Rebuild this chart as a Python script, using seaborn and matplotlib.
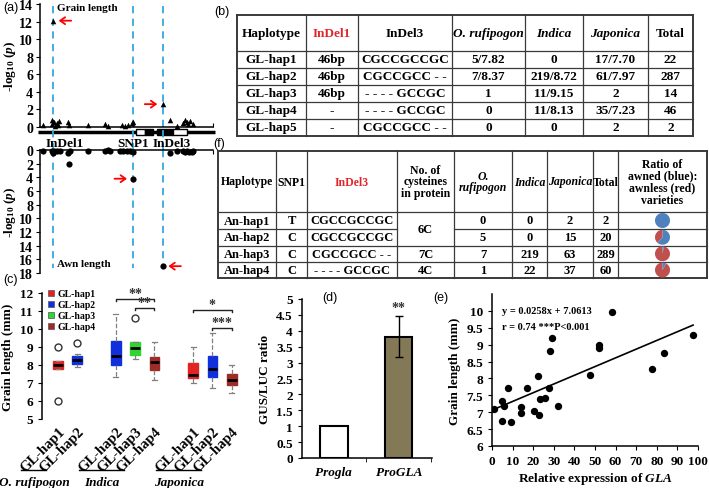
import matplotlib
matplotlib.use("Agg")
import matplotlib.pyplot as plt
import matplotlib.transforms as mtransforms
from matplotlib.lines import Line2D
from matplotlib.patches import Rectangle
from matplotlib.ticker import FuncFormatter
import numpy as np
import seaborn as sns

# ---------------- data ----------------
# (a) association scan along the locus (x = relative position in the region)
site_pos = [7.6, 53.5, 71.0]
site_names = ["InDel1", "SNP1", "InDel3"]
grain_pos = [1.9, 6.7, 7.2, 8.1, 8.6, 9.6, 10.2, 11.2, 16.4, 16.9, 27.9, 37.6, 39.5, 47.2,
             49.1, 51.0, 53.0, 53.9, 75.1, 79.0, 82.8, 83.8, 84.8, 85.8, 86.7, 88.6, 7.6, 71.0]
grain_logp = [0.2, 0.75, 0.3, 0.6, 0.1, 0.5, 0.2, 0.7, 0.6, 0.2, 0.25, 0.3, 0.1, 0.2,
              0.15, 0.25, 0.4, 0.6, 0.8, 0.15, 0.5, 0.8, 0.6, 0.35, 0.7, 0.3, 12.1, 2.6]
awn_pos = [1.9, 6.7, 7.4, 8.1, 9.6, 11.6, 16.4, 17.3, 16.6, 27.9, 37.6, 39.5, 40.5, 46.2,
           48.2, 50.1, 52.0, 53.6, 75.1, 79.0, 82.7, 84.0, 85.2, 86.4, 87.6, 88.4, 53.5, 71.0]
awn_logp = [0.1, 0.1, 0.4, 0.2, 0.1, 0.2, 0.4, 0.1, 2.0, 0.1, 0.1, 0.05, 0.2, 0.1,
            0.1, 0.15, 0.1, 0.3, 0.5, 0.2, 0.1, 0.3, 0.2, 0.35, 0.3, 0.1, 4.2, 17.0]
exon_start = [55.5, 60.7, 67.6, 76.9]
exon_end = [60.7, 65.3, 76.9, 85.0]
exon_kind = ["UTR", "CDS", "CDS", "UTR"]

# (b) grain-length haplotypes
b_header = ["Haplotype", "InDel1", "InDel3", "O. rufipogon", "Indica", "Japonica", "Total"]
b_hap = ["GL-hap1", "GL-hap2", "GL-hap3", "GL-hap4", "GL-hap5"]
b_indel1 = ["46bp", "46bp", "46bp", "-", "-"]
b_indel3 = ["CGCCGCCGC", "CGCCGCC - -", "- - - - GCCGC", "- - - - GCCGC", "CGCCGCC - -"]
b_rufipogon = ["5/7.82", "7/8.37", "1", "0", "0"]
b_indica = ["0", "219/8.72", "11/9.15", "11/8.13", "0"]
b_japonica = ["17/7.70", "61/7.97", "2", "35/7.23", "2"]
b_total = ["22", "287", "14", "46", "2"]

# (f) awn haplotypes
f_header = ["Haplotype", "SNP1", "InDel3", "No. of\ncysteines\nin protein", "O.\nrufipogon",
            "Indica", "Japonica", "Total", "Ratio of\nawned (blue):\nawnless (red)\nvarieties"]
f_hap = ["An-hap1", "An-hap2", "An-hap3", "An-hap4"]
f_snp1 = ["T", "C", "C", "C"]
f_indel3 = ["CGCCGCCGC", "CGCCGCCGC", "CGCCGCC - -", "- - - - GCCGC"]
f_cysteines = ["6C", "6C", "7C", "4C"]
f_rufipogon = ["0", "5", "7", "1"]
f_indica = ["0", "0", "219", "22"]
f_japonica = ["2", "15", "63", "37"]
f_total = ["2", "20", "289", "60"]
f_awned_share = [1.0, 0.62, 0.03, 0.08]

# (c) grain length per haplotype
c_groups = ["O. rufipogon", "O. rufipogon", "Indica", "Indica", "Indica",
            "Japonica", "Japonica", "Japonica"]
c_haps = ["GL-hap1", "GL-hap2", "GL-hap2", "GL-hap3", "GL-hap4", "GL-hap1", "GL-hap2", "GL-hap4"]
c_whislo = [7.8, 7.9, 7.35, 8.33, 7.17, 7.0, 6.72, 6.43]
c_q1 = [7.8, 8.05, 8.0, 8.56, 7.74, 7.28, 7.35, 6.9]
c_med = [8.0, 8.28, 8.52, 8.93, 8.18, 7.44, 7.78, 7.18]
c_q3 = [8.22, 8.52, 9.35, 9.26, 8.43, 8.09, 8.52, 7.5]
c_whishi = [8.22, 8.6, 10.83, 9.3, 9.27, 9.02, 9.78, 8.02]
c_fliers = [[9.0, 6.0], [9.2], [], [10.6], [], [], [], []]
c_tests = [(2, 4, "**"), (3, 4, "**"), (5, 7, "*"), (6, 7, "***")]
c_test_level = [11.68, 11.15, 11.05, 10.05]

# (d) promoter activity
d_constructs = ["Progla", "ProGLA"]
d_ratio = [1.0, 3.82]
d_err = [0.0, 0.63]

# (e) expression vs grain length
e_expr = [1.0, 5.0, 5.0, 5.8, 7.8, 9.0, 14.0, 14.2, 17.2, 20.4, 22.3, 22.6, 23.1,
          25.6, 27.7, 28.0, 29.1, 32.2, 47.4, 51.8, 52.1, 58.4, 77.8, 83.3, 97.6]
e_len = [7.09, 7.33, 6.74, 7.17, 7.71, 6.71, 6.99, 7.14, 7.71, 7.04, 8.06, 6.91, 7.38,
         7.43, 7.73, 8.81, 9.19, 7.17, 8.10, 8.99, 8.91, 9.98, 8.29, 8.74, 9.29]
e_slope = 0.0258
e_intercept = 7.0613
e_r = 0.74

# ---------------- style ----------------
plt.rcParams["font.family"] = ["Liberation Serif", "DejaVu Serif"]
plt.rcParams["font.weight"] = "bold"
plt.rcParams["axes.labelweight"] = "bold"
plt.rcParams["mathtext.fontset"] = "custom"
plt.rcParams["mathtext.rm"] = "Liberation Serif:bold"
plt.rcParams["mathtext.it"] = "Liberation Serif:bold:italic"
plt.rcParams["mathtext.bf"] = "Liberation Serif:bold"
plt.rcParams["axes.linewidth"] = 1.1

W, H = 709, 489
fig = plt.figure(figsize=(W / 100, H / 100), dpi=100)


def rect(l, t, r, b):
    return [l / W, 1 - b / H, (r - l) / W, (b - t) / H]


CYAN = "#35a8dd"
RED = "#e0262a"
hap_colors = {"GL-hap1": "#e32322", "GL-hap2": "#1030dc", "GL-hap3": "#2fd62f", "GL-hap4": "#9e2b25"}


def red_arrow(ax, x, y, side):
    ax.annotate("", xy=(x, y), xytext=(side * 13, 0), textcoords="offset points",
                arrowprops=dict(arrowstyle="->,head_length=0.35,head_width=0.25",
                                color="red", lw=1.3, shrinkA=0, shrinkB=4))


# ---------------- (a) ----------------
ax_top = fig.add_axes(rect(40, 5, 213, 128))
sns.scatterplot(x=grain_pos, y=grain_logp, marker="^", color="black", s=16, linewidth=0,
                ax=ax_top, clip_on=False, zorder=3)
ax_top.set_xlim(0, 100)
ax_top.set_ylim(0, 14)
ax_top.set_yticks(range(0, 15, 2))
ax_top.set_xticks([54, 100])
ax_top.set_xticklabels([])
ax_top.tick_params(axis="x", direction="in", length=3)
ax_top.tick_params(axis="y", labelsize=10, length=3, pad=2)
ax_top.spines[["top", "right"]].set_visible(False)
for p in site_pos:
    ax_top.axvline(p, color=CYAN, ls=(0, (4, 3)), lw=1.3, zorder=1)
ax_top.text(9.8, 13.6, "Grain length", fontsize=8, ha="left", va="center")
ax_top.set_ylabel(r"-log$_{10}$ ($p$)", fontsize=9.5)
ax_top.yaxis.set_label_coords(-0.13, 0.5)
top_idx = np.argsort(grain_logp)[::-1][:2]
for i, side in zip(top_idx, [1, -1]):
    red_arrow(ax_top, grain_pos[i], grain_logp[i], side)

ax_gene = fig.add_axes(rect(40, 128, 213, 151))
ax_gene.set_xlim(0, 100)
ax_gene.set_ylim(0, 1)
ax_gene.axis("off")
ax_gene.plot([-1, 101], [0.78, 0.78], color="black", lw=2.5, clip_on=False, solid_capstyle="butt")
for s, e, k in zip(exon_start, exon_end, exon_kind):
    ax_gene.add_patch(Rectangle((s, 0.66), e - s, 0.24, fc="white" if k == "UTR" else "black",
                                ec="black", lw=1, zorder=3))
for p in site_pos:
    ax_gene.axvline(p, color=CYAN, ls=(0, (4, 3)), lw=1.3, zorder=4)
for name, x in zip(site_names, [14.5, 53.8, 76.3]):
    ax_gene.text(x, 0.3, name, fontsize=9.5, ha="center", va="center", zorder=5)

ax_bot = fig.add_axes(rect(40, 151, 213, 274))
sns.scatterplot(x=awn_pos, y=awn_logp, marker="o", color="black", s=20, linewidth=0,
                ax=ax_bot, clip_on=False, zorder=3)
ax_bot.set_xlim(0, 100)
ax_bot.set_ylim(18, 0)
ax_bot.set_yticks(range(0, 19, 2))
ax_bot.xaxis.tick_top()
ax_bot.set_xticks([54, 100])
ax_bot.set_xticklabels([])
ax_bot.tick_params(axis="x", direction="in", length=3)
ax_bot.tick_params(axis="y", labelsize=10, length=3, pad=2)
ax_bot.spines[["bottom", "right"]].set_visible(False)
ax_bot.vlines(site_pos, 0, 17.3, color=CYAN, ls=(0, (4, 3)), lw=1.3, zorder=1)
ax_bot.text(9.8, 16.6, "Awn length", fontsize=8, ha="left", va="center")
ax_bot.set_ylabel(r"-log$_{10}$ ($p$)", fontsize=9.5)
ax_bot.yaxis.set_label_coords(-0.13, 0.5)
bot_idx = np.argsort(awn_logp)[::-1][:2]
for i, side in zip(bot_idx, [1, -1]):
    red_arrow(ax_bot, awn_pos[i], awn_logp[i], side)

# ---------------- tables (b) and (f) ----------------
ov = fig.add_axes([0, 0, 1, 1])
ov.set_xlim(0, W)
ov.set_ylim(H, 0)
ov.axis("off")
ov.set_zorder(-1)


def draw_grid(xs, ys, skip=()):
    for j, y in enumerate(ys):
        for i in range(len(xs) - 1):
            if (j, i) in skip:
                continue
            lw = 1.4 if j in (0, len(ys) - 1) else 0.9
            ov.plot([xs[i], xs[i + 1]], [y, y], color="#3a3a3a", lw=lw, solid_capstyle="projecting")
    for i, x in enumerate(xs):
        lw = 1.4 if i in (0, len(xs) - 1) else 0.9
        ov.plot([x, x], [ys[0], ys[-1]], color="#3a3a3a", lw=lw)


def cell_text(xs, ys, col, row, txt, size, italic=False, color="black", row_span=1):
    ov.text((xs[col] + xs[col + 1]) / 2, (ys[row] + ys[row + row_span]) / 2, txt,
            ha="center", va="center", fontsize=size, color=color,
            fontstyle="italic" if italic else "normal", linespacing=1.0)


bx = [237, 306, 358, 452, 525, 583, 648, 693]
by = [16, 52, 68.5, 85.5, 102.5, 119.5, 137]
draw_grid(bx, by)
for c, h in enumerate(b_header):
    cell_text(bx, by, c, 0, h, 9.5, italic=c in (3, 4, 5), color=RED if c == 1 else "black")
b_cols = [b_hap, b_indel1, b_indel3, b_rufipogon, b_indica, b_japonica, b_total]
for c, col in enumerate(b_cols):
    for r, v in enumerate(col):
        cell_text(bx, by, c, r + 1, v, 9.5)

fx = [218, 276, 307, 397, 454, 512, 547, 593, 618, 707]
fy = [152, 213, 230, 246.5, 263, 279]
merge_skip = set()
for r in range(1, len(f_cysteines)):
    if f_cysteines[r] == f_cysteines[r - 1]:
        merge_skip.add((r + 1, 3))
draw_grid(fx, fy, skip=merge_skip)
for c, h in enumerate(f_header):
    cell_text(fx, fy, c, 0, h, 8.5, italic=c in (4, 5, 6), color=RED if c == 2 else "black")
f_cols = [f_hap, f_snp1, f_indel3, None, f_rufipogon, f_indica, f_japonica, f_total]
for c, col in enumerate(f_cols):
    if col is None:
        continue
    for r, v in enumerate(col):
        cell_text(fx, fy, c, r + 1, v, 9)
r = 0
while r < len(f_cysteines):
    span = 1
    while r + span < len(f_cysteines) and f_cysteines[r + span] == f_cysteines[r]:
        span += 1
    cell_text(fx, fy, 3, r + 1, f_cysteines[r], 9, row_span=span)
    r += span
for r, share in enumerate(f_awned_share):
    cx = (fx[-2] + fx[-1]) / 2
    cy = (fy[r + 1] + fy[r + 2]) / 2
    pax = fig.add_axes(rect(cx - 7.5, cy - 7.5, cx + 7.5, cy + 7.5))
    pax.pie([1 - share, share], colors=["#c0504d", "#4f81bd"], startangle=90,
            counterclock=True, wedgeprops=dict(linewidth=0))
    pax.set_xlim(-1, 1)
    pax.set_ylim(-1, 1)
    pax.set_aspect("equal")

# ---------------- (c) ----------------
ax_c = fig.add_axes(rect(42, 294, 245, 420))
positions = []
pos, prev = 0, None
for g in c_groups:
    pos += 1 if (prev is None or g == prev) else 2
    positions.append(pos)
    prev = g
stats = [dict(whislo=a, q1=b, med=m, q3=q, whishi=w, fliers=f, label=h)
         for a, b, m, q, w, f, h in zip(c_whislo, c_q1, c_med, c_q3, c_whishi, c_fliers, c_haps)]
bp = ax_c.bxp(stats, positions=positions, widths=0.5, patch_artist=True,
              whiskerprops=dict(color="gray", ls="--", lw=0.9),
              capprops=dict(color="gray", lw=0.9),
              medianprops=dict(color="black", lw=2),
              flierprops=dict(marker="o", mfc="white", mec="#333333", ms=5, mew=1))
for patch, h in zip(bp["boxes"], c_haps):
    patch.set_facecolor(hap_colors[h])
    patch.set_edgecolor(hap_colors[h])
ax_c.set_xlim(0.17, 10.69)
ax_c.set_ylim(5, 12)
ax_c.set_yticks(range(5, 13))
ax_c.set_xticks(positions)
ax_c.set_xticklabels(c_haps, rotation=45, ha="right", rotation_mode="anchor", fontsize=10.5)
shift = mtransforms.ScaledTranslation(0.09, 0, fig.dpi_scale_trans)
for lab in ax_c.get_xticklabels():
    lab.set_transform(lab.get_transform() + shift)
ax_c.tick_params(axis="x", length=0, pad=4)
ax_c.tick_params(axis="y", labelsize=9.5, length=3)
ax_c.spines[["top", "right", "bottom"]].set_visible(False)
ax_c.set_ylabel("Grain length (mm)", fontsize=9.5, labelpad=4)
handles = [Line2D([], [], marker="s", ls="", mfc=c, mec="#555555", mew=0.5, ms=5, label=h)
           for h, c in hap_colors.items()]
ax_c.legend(handles=handles, loc="upper left", bbox_to_anchor=(0.0, 1.06), frameon=False,
            fontsize=7, handletextpad=0.2, labelspacing=0.2, borderaxespad=0, handlelength=1)
for (i, j, star), lvl in zip(c_tests, c_test_level):
    x1, x2 = positions[i], positions[j]
    ax_c.plot([x1, x1, x2, x2], [lvl - 0.12, lvl, lvl, lvl - 0.12], color="#222222", lw=1,
              clip_on=False)
    ax_c.text((x1 + x2) / 2, lvl - 0.05, star, ha="center", va="bottom", fontsize=10,
              color="#333333", clip_on=False)
trans = mtransforms.blended_transform_factory(ax_c.transData, ax_c.transAxes)
for g in dict.fromkeys(c_groups):
    ps = [p for p, gg in zip(positions, c_groups) if gg == g]
    x1, x2 = ps[0] - 1.9, ps[-1] - 1.6
    ax_c.plot([x1, x2], [-0.405, -0.405], color="black", lw=1, transform=trans, clip_on=False)
    ax_c.text((x1 + x2) / 2, -0.5, g, transform=trans, ha="center", va="center",
              fontsize=9.5, fontstyle="italic")

# ---------------- (d) ----------------
ax_d = fig.add_axes(rect(302, 300, 432, 459))
sns.barplot(x=d_constructs, y=d_ratio, hue=d_constructs, palette=["white", "#8b7d4f"],
            edgecolor="black", linewidth=1.5, width=0.42, legend=False, errorbar=None, ax=ax_d)
for i, (v, e) in enumerate(zip(d_ratio, d_err)):
    if e > 0:
        ax_d.errorbar([i], [v], yerr=[e], fmt="none", ecolor="black", elinewidth=1, capsize=3)
        ax_d.text(i, v + e + 0.08, "**", ha="center", va="bottom", fontsize=10, color="#333333")
ax_d.set_xlim(-0.49, 1.51)
ax_d.set_ylim(0, 5)
ax_d.set_yticks(np.arange(0, 5.01, 0.5))
ax_d.yaxis.set_major_formatter(FuncFormatter(lambda v, p: f"{v:g}"))
ax_d.set_xticks([0.5, 1.5], minor=True)
ax_d.tick_params(axis="x", which="major", length=0, labelsize=9.5, pad=6)
ax_d.tick_params(axis="x", which="minor", length=3)
ax_d.tick_params(axis="y", labelsize=9.5, length=3)
for lab in ax_d.get_xticklabels():
    lab.set_fontstyle("italic")
ax_d.spines[["top", "right"]].set_visible(False)
ax_d.set_xlabel("")
ax_d.set_ylabel("GUS/LUC ratio", fontsize=9.5, labelpad=4)

# ---------------- (e) ----------------
ax_e = fig.add_axes(rect(492, 295, 698, 447))
sns.scatterplot(x=e_expr, y=e_len, color="black", s=28, linewidth=0, ax=ax_e, zorder=3)
xs = np.array([min(e_expr), max(e_expr)])
ax_e.plot(xs, e_slope * xs + e_intercept, color="black", lw=1.2)
ax_e.set_xlim(0, 100)
ax_e.set_ylim(6, 10.5)
ax_e.set_xticks(range(0, 101, 10))
ax_e.set_yticks(np.arange(6, 10.01, 0.5))
ax_e.yaxis.set_major_formatter(FuncFormatter(lambda v, p: f"{v:g}"))
ax_e.tick_params(labelsize=9.5, length=3)
ax_e.spines[["top", "right"]].set_visible(False)
ax_e.text(0.05, 0.89, f"y = {e_slope}x + {e_intercept}", transform=ax_e.transAxes,
          fontsize=7.5, va="center")
ax_e.text(0.05, 0.785, f"r = {e_r} ***P<0.001", transform=ax_e.transAxes,
          fontsize=7.5, va="center")
ax_e.set_xlabel(r"Relative expression of $\mathit{GLA}$", fontsize=9.5, labelpad=2)
ax_e.set_ylabel("Grain length (mm)", fontsize=9.5, labelpad=4)

# ---------------- panel labels ----------------
for lab, x, y in [("(a)", 3, 8), ("(b)", 214, 12), ("(f)", 213, 144), ("(c)", 3, 280),
                  ("(d)", 322, 298), ("(e)", 433, 298)]:
    fig.text(x / W, 1 - y / H, lab, fontsize=9, fontweight="normal",
             family=["Liberation Sans", "DejaVu Sans"], ha="left", va="center")

fig.savefig("out.png", dpi=100)
